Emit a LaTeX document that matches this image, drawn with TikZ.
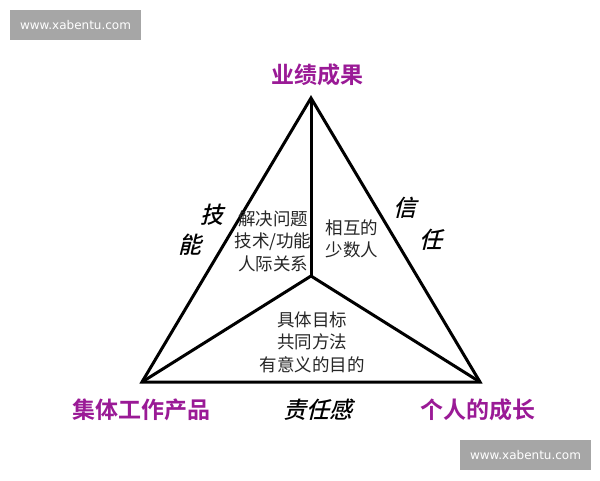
\documentclass[tikz,border=0pt]{standalone}
\usepackage{fontspec}
\setmainfont{Liberation Sans}
\newfontfamily\cjk{Noto Sans CJK SC}
\newfontfamily\cjkb{Noto Sans CJK SC Bold}
\newfontfamily\cjki[FakeSlant=0.25]{Noto Sans CJK SC Medium}
\newfontfamily\wm{DejaVu Sans}
\definecolor{lbl}{HTML}{9A1A96}
\definecolor{wmgray}{HTML}{A6A6A6}
\begin{document}
\begin{tikzpicture}[x=1pt,y=-1pt,
  edge/.style={line width=3pt,line join=miter,line cap=butt},
  vlabel/.style={font=\cjkb\fontsize{23}{26}\selectfont,text=lbl,inner sep=0},
  slabel/.style={font=\cjki\fontsize{23}{26}\selectfont,inner sep=0},
  itext/.style={font=\cjk\fontsize{17.5}{22.5}\selectfont,align=center,inner sep=0,text=black!85},
  wmbox/.style={fill=wmgray,text=white,font=\wm\fontsize{12}{14}\selectfont,inner sep=0,minimum width=131,minimum height=30}]
\useasboundingbox (0,0) rectangle (600,480);
\fill[white] (0,0) rectangle (600,480);
\coordinate (A) at (311,98);
\coordinate (B) at (142,382);
\coordinate (C) at (480,382);
\coordinate (O) at (311,276);
\draw[edge] (A) -- (B) -- (C) -- cycle;
\draw[edge] (A) -- (O);
\draw[edge] (B) -- (O) -- (C);
\node[vlabel] (top) at (317,75) {业绩成果};
\node[vlabel] (bl) at (141,410) {集体工作产品};
\node[vlabel] (br) at (478,410) {个人的成长};
\node[slabel] (mid) at (318,410) {责任感};
\node[slabel] (ji) at (212,215) {技};
\node[slabel] (neng) at (190,245) {能};
\node[slabel] (xin) at (405,208) {信};
\node[slabel] (ren) at (431,240) {任};
\node[itext] (left) at (273,241) {解决问题\\技术/功能\\人际关系};
\node[itext] (right) at (352,239) {相互的\\少数人};
\node[itext] (bottom) at (312,342) {具体目标\\共同方法\\有意义的目的};
\node[wmbox] (wm1) at (75.5,25) {www.xabentu.com};
\node[wmbox] (wm2) at (525.5,455) {www.xabentu.com};
\end{tikzpicture}
\end{document}
